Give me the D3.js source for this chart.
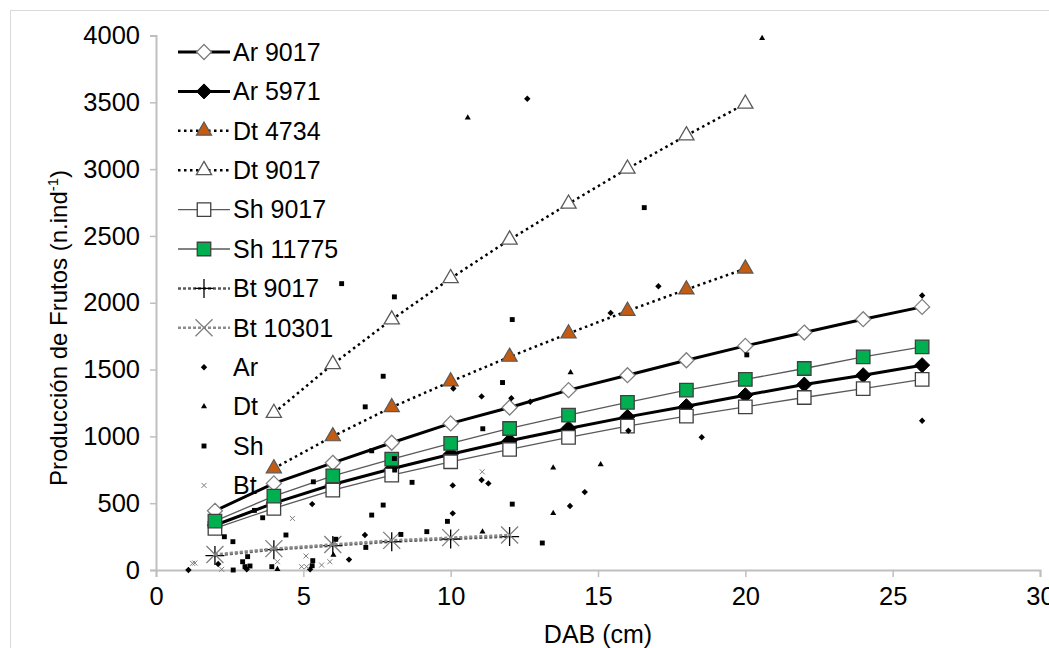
<!DOCTYPE html>
<html>
<head>
<meta charset="utf-8">
<script src="https://cdn.jsdelivr.net/npm/d3@7"></script>
<style>
  body { margin: 0; background: #fff; }
  text { font-family: "Liberation Sans", Arial, sans-serif; fill: #000; }
</style>
</head>
<body>
<div id="chart"></div>
<script>
// fitted curves (DAB in cm)
var dab = [2, 4, 6, 8, 10, 12, 14, 16, 18, 20, 22, 24, 26];
var ar9017 = [443, 648, 802, 952, 1097, 1216, 1346, 1458, 1570, 1677, 1777, 1877, 1969];
var ar5971 = [335, 500, 640, 758, 866, 967, 1059, 1146, 1226, 1308, 1388, 1458, 1533];
var sh9017 = [312, 461, 598, 710, 810, 902, 992, 1077, 1151, 1221, 1291, 1358, 1426];
var sh11775 = [366, 553, 705, 830, 947, 1059, 1159, 1254, 1346, 1426, 1508, 1595, 1670];
var dtDab = [4, 6, 8, 10, 12, 14, 16, 18, 20];
var dt4734 = [760, 1000, 1218, 1410, 1595, 1770, 1939, 2099, 2255];
var dt9017 = [1175, 1540, 1874, 2183, 2472, 2741, 3003, 3252, 3489];
var btDab = [2, 4, 6, 8, 10, 12];
var bt9017 = [108, 152, 183, 212, 232, 250];
var bt10301 = [116, 160, 191, 222, 242, 262];

// observed trees [dab, frutos]
var obsAr = [[1.1, 0], [2.11, 45], [3.08, 5], [5.23, 5], [5.3, 493], [6.55, 78], [7.09, 262],
  [10.07, 424], [10.07, 633], [10.09, 1358], [11.05, 673], [11.28, 648], [11.05, 1299],
  [12.06, 1286], [12.7, 1259], [14.05, 479], [14.55, 583], [15.43, 1924], [16.03, 1042],
  [17.05, 2123], [18.52, 994], [26.0, 2054], [26.0, 1117], [12.6, 3527]];
var obsDt = [[4.12, 5], [6.02, 112], [10.58, 3385], [11.08, 287], [13.48, 765], [13.48, 424],
  [14.07, 1478], [15.09, 790], [20.57, 3980]];
var obsSh = [[2.32, 249], [2.61, 212], [2.62, 0], [2.94, 62], [3.02, 25], [3.11, 100], [3.19, 30],
  [3.34, 446], [3.62, 391], [3.93, 25], [4.41, 262], [5.3, 32], [5.32, 70], [5.34, 660],
  [6.1, 230], [6.3, 2143], [7.1, 1221], [7.12, 169], [7.32, 411], [7.32, 892], [7.71, 486],
  [7.71, 1450], [8.09, 834], [8.1, 748], [8.09, 2044], [8.31, 266], [8.69, 656], [9.19, 287],
  [9.89, 364], [11.09, 1057], [11.76, 1403], [12.09, 493], [12.09, 1874], [13.11, 202],
  [16.57, 2712], [20.05, 1610]];
var obsBt = [[1.24, 50], [1.32, 52], [2.23, 5], [4.12, 62], [4.63, 386], [4.94, 25], [5.11, 25],
  [5.09, 105], [5.62, 37], [5.9, 62], [11.07, 735]];

var xTicks = [0, 5, 10, 15, 20, 25, 30];
var yTicks = [0, 500, 1000, 1500, 2000, 2500, 3000, 3500, 4000];

var W = 1049, H = 648;
var margin = { top: 35.5, right: 9, bottom: 78, left: 156 };

var svg = d3.select("#chart").append("svg")
  .attr("width", W)
  .attr("height", H);

// outer chart border
svg.append("rect")
  .attr("x", 10.5).attr("y", 10.5)
  .attr("width", W + 20).attr("height", H + 20)
  .attr("fill", "none")
  .attr("stroke", "#d9d9d9");

var x = d3.scaleLinear().domain([0, 30]).range([margin.left, W - margin.right]);
var y = d3.scaleLinear().domain([0, 4000]).range([H - margin.bottom, margin.top]);

// axes
var xAxis = svg.append("g")
  .attr("transform", "translate(0," + y(0) + ")")
  .call(d3.axisBottom(x).tickValues(xTicks).tickFormat(d3.format("d")).tickSize(7).tickPadding(10));
var yAxis = svg.append("g")
  .attr("transform", "translate(" + x(0) + ",0)")
  .call(d3.axisLeft(y).tickValues(yTicks).tickFormat(d3.format("d")).tickSize(6).tickPadding(10));
[xAxis, yAxis].forEach(function (g) {
  g.select(".domain").attr("stroke", "#bfbfbf").attr("stroke-width", 2);
  g.selectAll(".tick line").attr("stroke", "#bfbfbf").attr("stroke-width", 1.5);
  g.selectAll(".tick text")
    .style("font-family", "Liberation Sans, Arial, sans-serif")
    .style("font-size", "25.5px")
    .attr("fill", "#000");
});

// axis titles
svg.append("text")
  .attr("x", (x(0) + x(30)) / 2)
  .attr("y", 643)
  .attr("text-anchor", "middle")
  .style("font-size", "25px")
  .text("DAB (cm)");

var yt = svg.append("text")
  .attr("transform", "translate(67,328) rotate(-90)")
  .attr("text-anchor", "middle")
  .style("font-size", "24px");
yt.append("tspan").text("Producción de Frutos (n.ind");
yt.append("tspan").attr("dy", -9).style("font-size", "15px").text("-1");
yt.append("tspan").attr("dy", 9).text(")");

// marker shapes
function diamond(s) { return "M0," + (-s) + "L" + s + ",0L0," + s + "L" + (-s) + ",0Z"; }
function plus(s) { return "M" + (-s) + ",0H" + s + "M0," + (-s) + "V" + s; }
function cross(s) { return "M" + (-s) + "," + (-s) + "L" + s + "," + s + "M" + (-s) + "," + s + "L" + s + "," + (-s); }
var tri = d3.symbol().type(d3.symbolTriangle);
var sq = d3.symbol().type(d3.symbolSquare);

var series = [
  { name: "Ar 9017", xs: dab, ys: ar9017, line: { stroke: "#000", width: 3, dash: null },
    mark: { d: diamond(7.5), fill: "#fff", stroke: "#7f7f7f", sw: 1.3 } },
  { name: "Ar 5971", xs: dab, ys: ar5971, line: { stroke: "#000", width: 3, dash: null },
    mark: { d: diamond(7.5), fill: "#000", stroke: "#000", sw: 1 } },
  { name: "Dt 4734", xs: dtDab, ys: dt4734, line: { stroke: "#000", width: 2.5, dash: "2.5,3.5" },
    mark: { d: tri.size(100)(), fill: "#c55a11", stroke: "#595959", sw: 1.2 } },
  { name: "Dt 9017", xs: dtDab, ys: dt9017, line: { stroke: "#000", width: 2.5, dash: "2.5,3.5" },
    mark: { d: tri.size(100)(), fill: "#fff", stroke: "#595959", sw: 1.3 } },
  { name: "Sh 9017", xs: dab, ys: sh9017, line: { stroke: "#595959", width: 1.3, dash: null },
    mark: { d: sq.size(182)(), fill: "#fff", stroke: "#404040", sw: 1.3 } },
  { name: "Sh 11775", xs: dab, ys: sh11775, line: { stroke: "#595959", width: 1.3, dash: null },
    mark: { d: sq.size(182)(), fill: "#00b050", stroke: "#404040", sw: 1.3 } },
  { name: "Bt 9017", xs: btDab, ys: bt9017, line: { stroke: "#595959", width: 2.5, dash: "3,2" },
    mark: { d: plus(9.5), fill: "none", stroke: "#000", sw: 1.3 } },
  { name: "Bt 10301", xs: btDab, ys: bt10301, line: { stroke: "#8c8c8c", width: 2.5, dash: "3,2" },
    mark: { d: cross(8.5), fill: "none", stroke: "#7f7f7f", sw: 1.3 } }
];

var obs = [
  { name: "Ar", pts: obsAr, d: diamond(3.2), fill: "#000", stroke: "none" },
  { name: "Dt", pts: obsDt, d: tri.size(16)(), fill: "#000", stroke: "none" },
  { name: "Sh", pts: obsSh, d: sq.size(24)(), fill: "#000", stroke: "none" },
  { name: "Bt", pts: obsBt, d: cross(2.5), fill: "none", stroke: "#7f7f7f" }
];

var line = d3.line().x(function (d) { return x(d[0]); }).y(function (d) { return y(d[1]); });

// fitted lines with markers
series.forEach(function (s) {
  var pts = s.xs.map(function (v, i) { return [v, s.ys[i]]; });
  svg.append("path")
    .datum(pts)
    .attr("d", line)
    .attr("fill", "none")
    .attr("stroke", s.line.stroke)
    .attr("stroke-width", s.line.width)
    .attr("stroke-dasharray", s.line.dash);
  svg.append("g").selectAll("path")
    .data(pts)
    .enter()
    .append("path")
    .attr("transform", function (d) { return "translate(" + x(d[0]) + "," + y(d[1]) + ")"; })
    .attr("d", s.mark.d)
    .attr("fill", s.mark.fill)
    .attr("stroke", s.mark.stroke)
    .attr("stroke-width", s.mark.sw);
});

// observed points on top
obs.forEach(function (o) {
  svg.append("g").selectAll("path")
    .data(o.pts)
    .enter()
    .append("path")
    .attr("transform", function (d) { return "translate(" + x(d[0]) + "," + y(d[1]) + ")"; })
    .attr("d", o.d)
    .attr("fill", o.fill)
    .attr("stroke", o.stroke)
    .attr("stroke-width", 1);
});

// legend
var legX = 178, legY = 52, legStep = 39.4;
var leg = svg.append("g");
series.forEach(function (s, i) {
  var cy = legY + i * legStep;
  leg.append("line")
    .attr("x1", legX).attr("x2", legX + 52)
    .attr("y1", cy).attr("y2", cy)
    .attr("stroke", s.line.stroke)
    .attr("stroke-width", s.line.width)
    .attr("stroke-dasharray", s.line.dash);
  leg.append("path")
    .attr("transform", "translate(" + (legX + 26) + "," + cy + ")")
    .attr("d", s.mark.d)
    .attr("fill", s.mark.fill)
    .attr("stroke", s.mark.stroke)
    .attr("stroke-width", s.mark.sw);
  leg.append("text")
    .attr("x", 233).attr("y", cy).attr("dy", "0.35em")
    .style("font-size", "25px")
    .text(s.name);
});
obs.forEach(function (o, j) {
  var cy = legY + (series.length + j) * legStep;
  leg.append("path")
    .attr("transform", "translate(" + (legX + 26) + "," + cy + ")")
    .attr("d", o.d)
    .attr("fill", o.fill)
    .attr("stroke", o.stroke);
  leg.append("text")
    .attr("x", 233).attr("y", cy).attr("dy", "0.35em")
    .style("font-size", "25px")
    .text(o.name);
});
</script>
</body>
</html>
